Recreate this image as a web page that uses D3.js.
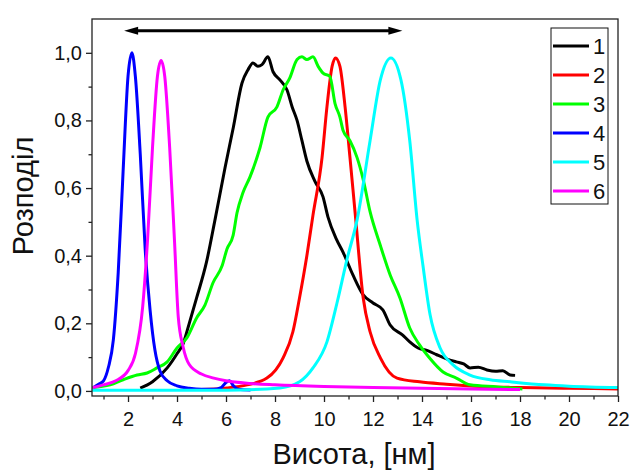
<!doctype html>
<html>
<head>
<meta charset="utf-8">
<style>
	body {
		margin: 0;
		background: white;
	}
	svg text {
		font-family: Arial, "Liberation Sans", sans-serif;
		fill: #111;
	}
	.axis path, .axis line {
		stroke: #222;
		stroke-width: 1.3px;
	}
	.axis text {
		font-size: 20px;
	}
	.frame {
		fill: none;
		stroke: #222;
		stroke-width: 1.3px;
	}
	.curve {
		fill: none;
		stroke-width: 3px;
		stroke-linejoin: round;
	}
	.title {
		font-size: 29px;
	}
	.lgd-box {
		fill: white;
		stroke: #111;
		stroke-width: 1px;
	}
	.lgd-label {
		font-size: 22px;
	}
</style>
<script src="https://d3js.org/d3.v7.min.js"></script>
</head>
<body>
<div id="canvas"></div>
<script>
	// series 1..6: height (nm) and distribution
	var x1 = [2.5, 3.0, 3.6, 4.0, 4.25, 4.5, 4.8, 5.2, 5.55, 5.96, 6.3, 6.65, 6.9, 7.1, 7.3, 7.47, 7.71, 7.92, 8.2, 8.49, 8.7, 8.9, 9.1, 9.3, 9.63, 9.96, 10.16, 10.5, 10.78, 11.18, 11.6, 12.0, 12.4, 12.7, 13.2, 13.5, 13.84, 14.2, 14.6, 15.0, 15.4, 15.7, 15.96, 16.3, 16.65, 17.0, 17.3, 17.6, 17.8];
	var y1 = [0.008, 0.027, 0.068, 0.11, 0.14, 0.2, 0.275, 0.38, 0.506, 0.66, 0.78, 0.91, 0.95, 0.97, 0.96, 0.965, 0.988, 0.944, 0.92, 0.89, 0.84, 0.80, 0.74, 0.68, 0.62, 0.574, 0.515, 0.45, 0.41, 0.343, 0.284, 0.26, 0.24, 0.195, 0.166, 0.145, 0.127, 0.12, 0.107, 0.095, 0.086, 0.08, 0.068, 0.07, 0.062, 0.058, 0.06, 0.047, 0.046];

	var x2 = [5.0, 6.04, 6.86, 7.67, 8.33, 8.73, 9.0, 9.3, 9.55, 9.92, 10.12, 10.33, 10.47, 10.65, 10.86, 11.06, 11.27, 11.6, 11.88, 12.3, 12.98, 13.9, 15.0, 16.4, 18.0, 20.0, 22.0];
	var y2 = [0.004, 0.009, 0.018, 0.038, 0.098, 0.175, 0.275, 0.40, 0.52, 0.69, 0.84, 0.96, 0.985, 0.96, 0.84, 0.69, 0.527, 0.275, 0.175, 0.098, 0.038, 0.027, 0.02, 0.013, 0.01, 0.008, 0.006];

	var x3 = [0.53, 1.27, 1.8, 2.37, 2.78, 3.18, 3.6, 4.0, 4.4, 4.8, 5.14, 5.47, 5.84, 6.04, 6.29, 6.45, 6.69, 6.98, 7.39, 7.71, 8.08, 8.33, 8.6, 8.9, 9.1, 9.3, 9.55, 9.76, 9.96, 10.24, 10.45, 10.65, 10.78, 11.06, 11.35, 11.6, 11.88, 12.3, 12.7, 13.1, 13.5, 13.9, 14.3, 14.86, 15.4, 15.96, 17.06, 18.1];
	var y3 = [0.01, 0.018, 0.033, 0.047, 0.053, 0.068, 0.086, 0.127, 0.157, 0.216, 0.254, 0.32, 0.37, 0.42, 0.46, 0.527, 0.586, 0.633, 0.72, 0.81, 0.84, 0.89, 0.925, 0.98, 0.988, 0.98, 0.988, 0.96, 0.94, 0.93, 0.85, 0.81, 0.77, 0.74, 0.69, 0.625, 0.53, 0.43, 0.343, 0.275, 0.186, 0.136, 0.098, 0.056, 0.038, 0.018, 0.012, 0.006];

	var x4 = [0.6, 0.8, 1.0, 1.2, 1.4, 1.6, 1.8, 2.0, 2.16, 2.3, 2.5, 2.7, 2.9, 3.1, 3.3, 3.6, 4.0, 4.5, 5.0, 5.5, 5.8, 6.0, 6.15, 6.3, 6.5, 7.0];
	var y4 = [0.01, 0.02, 0.03, 0.07, 0.15, 0.35, 0.65, 0.93, 1.0, 0.93, 0.7, 0.42, 0.24, 0.12, 0.06, 0.03, 0.015, 0.008, 0.005, 0.005, 0.01, 0.025, 0.03, 0.015, 0.005, 0.003];

	var x5 = [0.53, 3.0, 6.0, 8.2, 9.0, 9.55, 10.12, 10.53, 10.94, 11.35, 11.88, 12.3, 12.73, 13.14, 13.5, 13.8, 14.04, 14.33, 14.74, 15.27, 15.96, 16.78, 17.6, 19.0, 20.0, 22.0];
	var y5 = [0.002, 0.002, 0.002, 0.009, 0.027, 0.068, 0.145, 0.26, 0.39, 0.506, 0.74, 0.92, 0.985, 0.92, 0.74, 0.506, 0.37, 0.225, 0.127, 0.077, 0.047, 0.033, 0.027, 0.018, 0.014, 0.01];

	var x6 = [0.55, 1.0, 1.5, 2.0, 2.3, 2.6, 2.8, 3.0, 3.2, 3.35, 3.5, 3.7, 3.9, 4.05, 4.25, 4.5, 5.0, 5.5, 6.0, 7.0, 8.0, 10.0, 12.0, 14.0, 16.0, 18.0];
	var y6 = [0.01, 0.018, 0.03, 0.06, 0.11, 0.25, 0.45, 0.72, 0.93, 0.977, 0.93, 0.72, 0.44, 0.22, 0.13, 0.078, 0.05, 0.038, 0.03, 0.022, 0.018, 0.013, 0.01, 0.008, 0.006, 0.004];

	var names = ["1", "2", "3", "4", "5", "6"];
	var colors = ["#000000", "#ff0000", "#00ff00", "#0000ff", "#00ffff", "#ff00ff"];

	var x_ticks = [2, 4, 6, 8, 10, 12, 14, 16, 18, 20, 22];
	var x_minor = [1, 3, 5, 7, 9, 11, 13, 15, 17, 19, 21];
	var y_ticks = [0, 0.2, 0.4, 0.6, 0.8, 1.0];
	var y_minor = [0.1, 0.3, 0.5, 0.7, 0.9];

	// double arrow span at the top (nm)
	var arrow_span = [1.84, 13.2];
	var arrow_level = 1.065;

	var width = 631,
		height = 472,
		margin = {top: 19, right: 13, bottom: 76, left: 92};

	var series = [[x1, y1], [x2, y2], [x3, y3], [x4, y4], [x5, y5], [x6, y6]].map(function(s, i) {
		return {
			name: names[i],
			color: colors[i],
			values: s[0].map((x, j) => ({x: x, y: s[1][j]}))
		};
	});

	var svg = d3.select("#canvas")
		.append("svg")
		.attr("width", width)
		.attr("height", height);

	var scale_x = d3.scaleLinear()
		.domain([0.53, 22])
		.range([margin.left, width - margin.right]);

	var scale_y = d3.scaleLinear()
		.domain([-0.015, 1.1])
		.range([height - margin.bottom, margin.top]);

	var comma = v => d3.format(".1f")(v).replace(".", ",");

	// minor ticks first, so major ones sit on top
	svg.append("g")
		.attr("class", "axis")
		.attr("transform", `translate(0, ${height - margin.bottom})`)
		.call(d3.axisBottom(scale_x).tickValues(x_minor).tickSize(3.5).tickFormat(""))
		.call(g => g.select(".domain").remove());

	svg.append("g")
		.attr("class", "axis")
		.attr("transform", `translate(${margin.left}, 0)`)
		.call(d3.axisLeft(scale_y).tickValues(y_minor).tickSize(3.5).tickFormat(""))
		.call(g => g.select(".domain").remove());

	svg.append("g")
		.attr("class", "axis")
		.attr("transform", `translate(0, ${height - margin.bottom})`)
		.call(d3.axisBottom(scale_x).tickValues(x_ticks).tickSize(6).tickSizeOuter(0).tickPadding(10))
		.call(g => g.select(".domain").remove());

	svg.append("g")
		.attr("class", "axis")
		.attr("transform", `translate(${margin.left}, 0)`)
		.call(d3.axisLeft(scale_y).tickValues(y_ticks).tickSize(6).tickSizeOuter(0).tickPadding(4).tickFormat(comma))
		.call(g => g.select(".domain").remove());

	var line = d3.line()
		.x(d => scale_x(d.x))
		.y(d => scale_y(d.y))
		.curve(d3.curveMonotoneX);

	svg.append("clipPath")
		.attr("id", "clip")
	  .append("rect")
		.attr("x", margin.left)
		.attr("y", margin.top)
		.attr("width", width - margin.left - margin.right)
		.attr("height", height - margin.top - margin.bottom);

	svg.append("g")
		.attr("clip-path", "url(#clip)")
		.selectAll("path.curve")
		.data(series)
	  .enter().append("path")
		.attr("class", "curve")
		.attr("stroke", d => d.color)
		.attr("d", d => line(d.values));

	svg.append("rect")
		.attr("class", "frame")
		.attr("x", margin.left)
		.attr("y", margin.top)
		.attr("width", width - margin.left - margin.right)
		.attr("height", height - margin.top - margin.bottom);

	// double-headed arrow, heads drawn as plain triangles
	var ax0 = scale_x(arrow_span[0]),
		ax1 = scale_x(arrow_span[1]),
		ay = scale_y(arrow_level),
		head = 14;

	svg.append("line")
		.attr("x1", ax0 + head - 2)
		.attr("x2", ax1 - head + 2)
		.attr("y1", ay)
		.attr("y2", ay)
		.attr("stroke", "#000")
		.attr("stroke-width", 3);

	svg.append("path")
		.attr("d", `M${ax0},${ay} L${ax0 + head},${ay - 4} L${ax0 + head},${ay + 4} Z`)
		.attr("fill", "#000");

	svg.append("path")
		.attr("d", `M${ax1},${ay} L${ax1 - head},${ay - 4} L${ax1 - head},${ay + 4} Z`)
		.attr("fill", "#000");

	// legend
	var lgd = svg.append("g")
		.attr("transform", "translate(551, 28)");

	lgd.append("rect")
		.attr("class", "lgd-box")
		.attr("width", 57)
		.attr("height", 176);

	var rows = lgd.selectAll("g.row")
		.data(series)
	  .enter().append("g")
		.attr("class", "row")
		.attr("transform", (d, i) => `translate(0, ${18 + i * 29})`);

	rows.append("line")
		.attr("x1", 2)
		.attr("x2", 38)
		.attr("stroke", d => d.color)
		.attr("stroke-width", 3);

	rows.append("text")
		.attr("class", "lgd-label")
		.attr("x", 42)
		.attr("dy", "0.36em")
		.text(d => d.name);

	// axis titles
	svg.append("text")
		.attr("class", "title")
		.attr("text-anchor", "middle")
		.attr("x", 354)
		.attr("y", 464)
		.text("Висота, [нм]");

	svg.append("text")
		.attr("class", "title")
		.attr("text-anchor", "middle")
		.attr("transform", "translate(33, 196) rotate(-90)")
		.text("Розподіл");
</script>
</body>
</html>
